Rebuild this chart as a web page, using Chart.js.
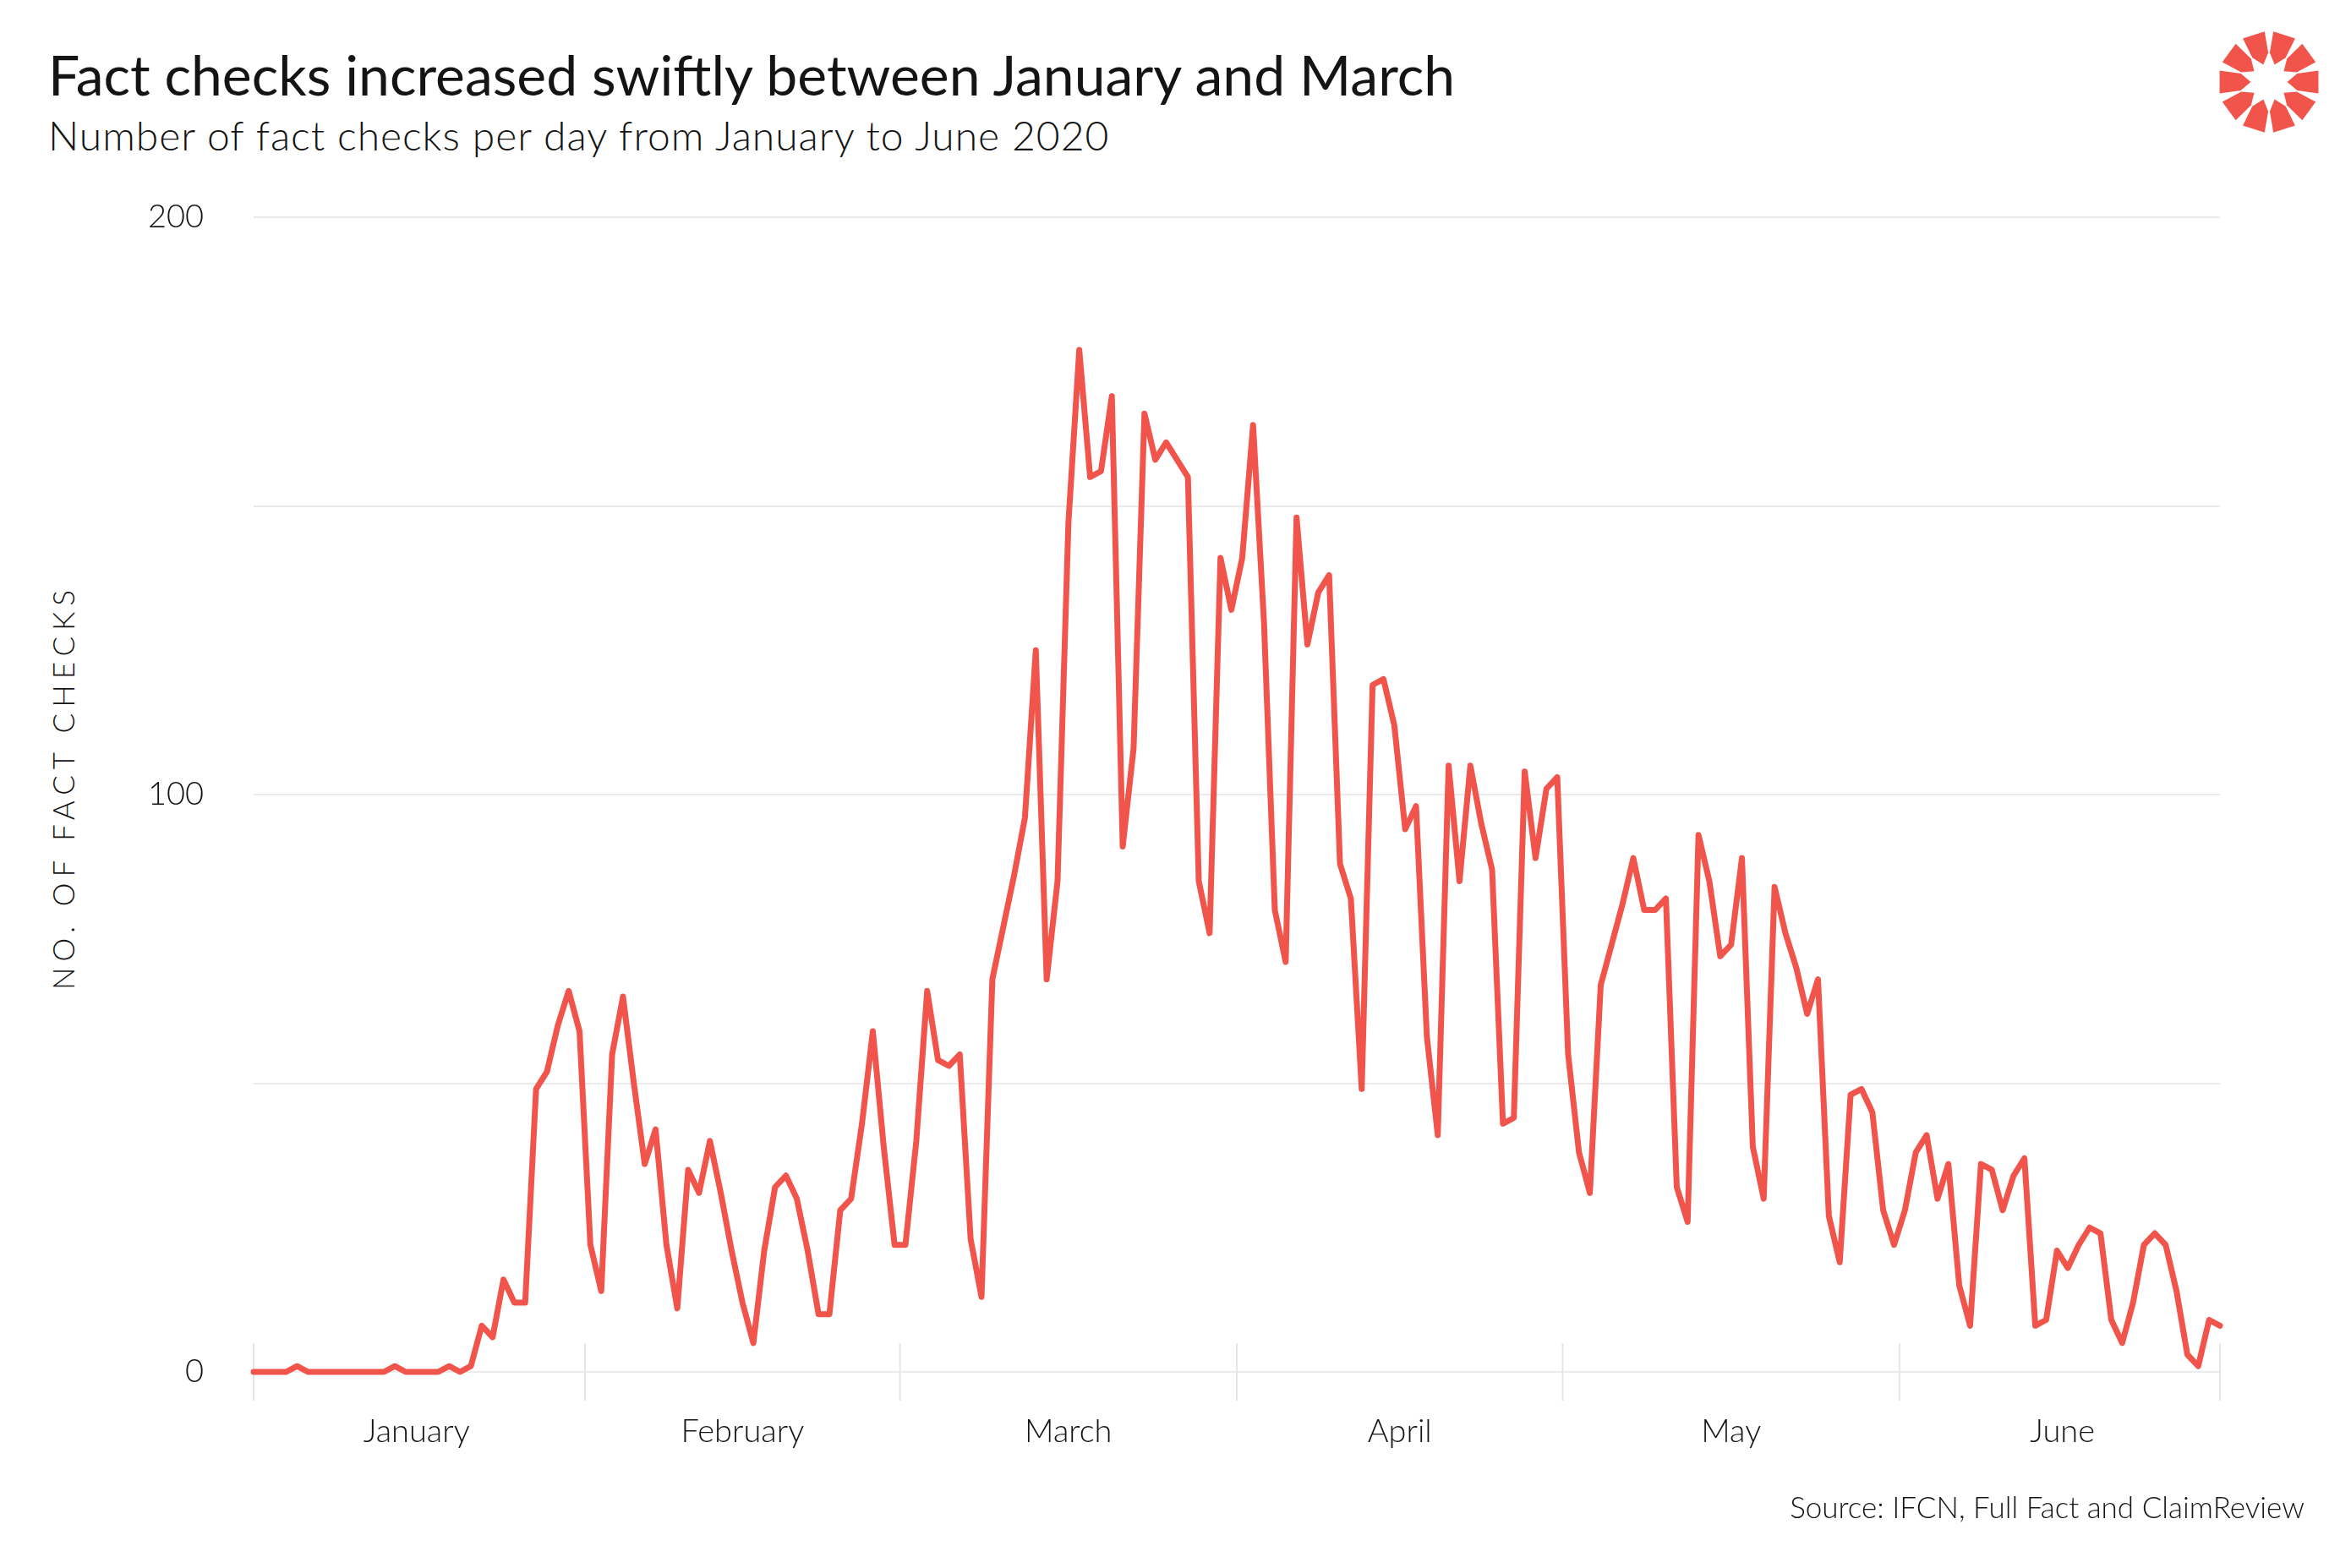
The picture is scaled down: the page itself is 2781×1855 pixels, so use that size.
<!DOCTYPE html>
<html>
<head>
<meta charset="utf-8">
<script src="https://cdn.jsdelivr.net/npm/chart.js@4.4.1/dist/chart.umd.min.js"></script>
<style>
  html, body { margin: 0; padding: 0; background: #fff; }
  #page { position: relative; width: 2781px; height: 1855px; overflow: hidden;
          font-family: Lato, "Open Sans", sans-serif; color: #141414; }
  .title { position: absolute; left: 57px; top: 55px; font-size: 66px; line-height: 1; font-weight: 400; white-space: nowrap; }
  .subtitle { position: absolute; left: 57px; top: 136px; font-size: 48px; line-height: 1; font-weight: 300;
              letter-spacing: 0.02em; white-space: nowrap; }
  .ylabel { position: absolute; left: -225px; top: 913px; width: 600px; height: 36px; font-size: 35px; line-height: 1;
            font-weight: 300; text-align: center; letter-spacing: 0.2em; transform: rotate(-90deg); white-space: nowrap; }
  .source { position: absolute; right: 55px; top: 1765px; font-size: 35px; line-height: 1; font-weight: 300; white-space: nowrap; }
  .logo { position: absolute; left: 2614px; top: 27px; }
  #chart { position: absolute; left: 0; top: 0; }
</style>
</head>
<body>
<div id="page">
  <div class="title">Fact checks increased swiftly between January and March</div>
  <div class="subtitle">Number of fact checks per day from January to June 2020</div>
  <div class="ylabel">NO. OF FACT CHECKS</div>
  <svg class="logo" width="140" height="140" viewBox="-70 -70 140 140"></svg>
  <canvas id="chart" width="2781" height="1855"></canvas>
  <div class="source">Source: IFCN, Full Fact and ClaimReview</div>
</div>
<script>
"use strict";

//-------------- data: fact checks per day, one array per month ---------------
const jan = [0, 0, 0, 0, 1, 0, 0, 0, 0, 0, 0, 0, 0, 1, 0, 0, 0, 0, 1, 0, 1, 8, 6, 16, 12, 12, 49, 52, 60, 66, 59];
const feb = [22, 14, 55, 65, 50, 36, 42, 22, 11, 35, 31, 40, 31, 21, 12, 5, 21, 32, 34, 30, 21, 10, 10, 28, 30, 43, 59, 39, 22];
const mar = [22, 40, 66, 54, 53, 55, 23, 13, 68, 77, 86, 96, 125, 68, 85, 147, 177, 155, 156, 169, 91, 108, 166, 158, 161, 158, 155, 85, 76, 141, 132];
const apr = [141, 164, 130, 80, 71, 148, 126, 135, 138, 88, 82, 49, 119, 120, 112, 94, 98, 58, 41, 105, 85, 105, 95, 87, 43, 44, 104, 89, 101, 103];
const may = [55, 38, 31, 67, 74, 81, 89, 80, 80, 82, 32, 26, 93, 85, 72, 74, 89, 39, 30, 84, 76, 70, 62, 68, 27, 19, 48, 49, 45, 28, 22];
const jun = [28, 38, 41, 30, 36, 15, 8, 36, 35, 28, 34, 37, 8, 9, 21, 18, 22, 25, 24, 9, 5, 12, 22, 24, 22, 14, 3, 1, 9, 8];

const monthNames = ["January", "February", "March", "April", "May", "June"];
const monthStarts = [0, 31, 60, 91, 121, 152, 182];   // day index of the 1st, 2020
const yGrid = [0, 50, 100, 150, 200];
const yLabels = [0, 100, 200];

const RED = "#f1544b";

//-------------- build points from the month arrays ---------------------------
const counts = [].concat(jan, feb, mar, apr, may, jun);
const points = counts.map((v, i) => ({ x: i, y: v }));
const lastDay = counts.length - 1;
// months run from midnight to midnight, so the edges sit half a day before the 1st
const monthMids = monthNames.map((m, i) => (monthStarts[i] + monthStarts[i + 1]) / 2 - 0.5);
const boundaryTicks = [0].concat(monthStarts.slice(1, 6).map(d => d - 0.5), [lastDay]);

//-------------- logo (10 petals round a white star) --------------------------
function drawLogo() {
  const svg = document.querySelector(".logo");
  const R = 60;
  const pol = (r, a) => {
    const t = a * Math.PI / 180;
    return (r * Math.cos(t)).toFixed(2) + "," + (r * Math.sin(t)).toFixed(2);
  };
  let html = "";
  for (let k = 0; k < 10; k++) {
    const a = k * 36;
    const pts = [pol(R, a - 13), pol(R, a + 13), pol(0.58 * R, a + 16.5), pol(0.36 * R, a), pol(0.58 * R, a - 16.5)];
    html += `<polygon points="${pts.join(" ")}" fill="${RED}"/>`;
  }
  svg.innerHTML = html;
}
drawLogo();

//-------------- month boundary tick marks across the zero line ---------------
const monthTicks = {
  id: "monthTicks",
  beforeDatasetsDraw(chart) {
    const ctx = chart.ctx;
    const xs = chart.scales.x;
    const y0 = chart.scales.y.getPixelForValue(0);
    ctx.save();
    ctx.strokeStyle = "#e6e6e6";
    ctx.lineWidth = 2;
    for (let d of boundaryTicks) {
      const px = xs.getPixelForValue(d);
      ctx.beginPath();
      ctx.moveTo(px, y0 - 34);
      ctx.lineTo(px, y0 + 34);
      ctx.stroke();
    }
    ctx.restore();
  }
};

//-------------- chart ---------------------------------------------------------
Chart.defaults.font.family = "Lato, 'Open Sans', sans-serif";

new Chart(document.getElementById("chart"), {
  type: "line",
  data: {
    datasets: [{
      data: points,
      borderColor: RED,
      borderWidth: 7,
      pointRadius: 0,
      tension: 0,
      borderJoinStyle: "round",
      borderCapStyle: "round",
      clip: false
    }]
  },
  options: {
    responsive: false,
    devicePixelRatio: 1,
    animation: false,
    layout: { padding: { top: 257, right: 155, left: 0, bottom: 0 } },
    plugins: { legend: { display: false }, tooltip: { enabled: false } },
    scales: {
      x: {
        type: "linear",
        min: 0,
        max: lastDay,
        grid: { display: false },
        border: { display: false },
        afterBuildTicks: s => { s.ticks = monthMids.map(v => ({ value: v })); },
        afterFit: s => { s.height = 232; },
        ticks: {
          autoSkip: false,
          maxRotation: 0,
          padding: 40,
          color: "#141414",
          font: { size: 38, weight: 300 },
          callback: (v, i) => monthNames[i]
        }
      },
      y: {
        min: 0,
        max: 200,
        afterBuildTicks: s => { s.ticks = yGrid.map(v => ({ value: v })); },
        afterFit: s => { s.width = 300; },
        grid: { color: "#ebebeb", lineWidth: 2, drawTicks: false },
        border: { display: false },
        ticks: {
          padding: 59,
          color: "#141414",
          font: { size: 38, weight: 300 },
          callback: v => yLabels.includes(v) ? String(v) : ""
        }
      }
    }
  },
  plugins: [monthTicks]
});
</script>
</body>
</html>
